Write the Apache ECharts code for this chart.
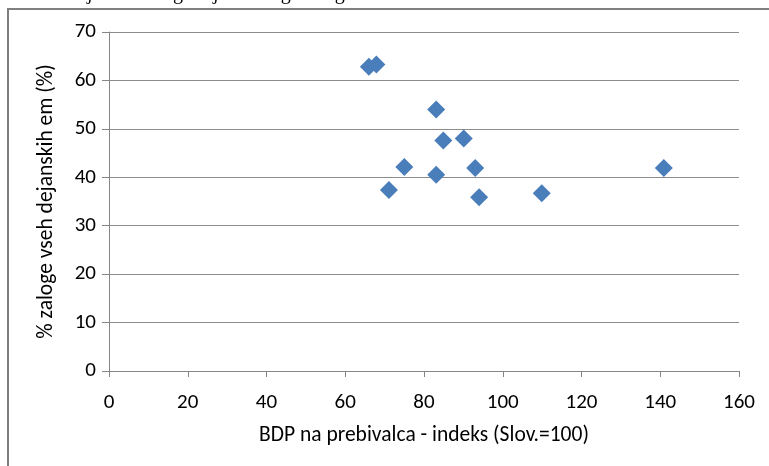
<!DOCTYPE html>
<html>
<head>
<meta charset="utf-8">
<script src="https://cdn.jsdelivr.net/npm/echarts@6/dist/echarts.min.js"></script>
<style>
html,body{margin:0;padding:0;background:#fff;}
#c{width:769px;height:466px;}
</style>
</head>
<body>
<div id="c"></div>
<script>
const xTicks = [0, 20, 40, 60, 80, 100, 120, 140, 160];
const yTicks = [0, 10, 20, 30, 40, 50, 60, 70];
const gdpIndex = [66.0, 67.9, 83.1, 84.9, 90.1, 75.0, 83.1, 93.0, 71.1, 94.0, 109.9, 140.9];
const emigrantShare = [62.8, 63.3, 54.0, 47.6, 48.0, 42.1, 40.5, 41.9, 37.4, 35.9, 36.7, 41.9];
const xName = 'BDP na prebivalca - indeks (Slov.=100)';
const yName = '% zaloge vseh dejanskih em (%)';
const captionText = '2.  Slika dejanska emigracija – zaloga emigrantov';

const font = "Carlito, 'Open Sans', sans-serif";
const chart = echarts.init(document.getElementById('c'), null, {renderer: 'canvas'});
chart.setOption({
  animation: false,
  backgroundColor: '#fff',
  graphic: [
    {type: 'rect', shape: {x: 8, y: 9, width: 800, height: 500},
     style: {fill: 'none', stroke: '#7f7f7f', lineWidth: 2}},
    {type: 'text', x: -3, y: 4,
     style: {text: captionText, font: "20px 'Liberation Serif', serif", fill: '#000',
             textBaseline: 'alphabetic', verticalAlign: 'bottom'}}
  ],
  grid: {left: 109, right: 30, top: 32, bottom: 95},
  xAxis: {
    type: 'value', min: xTicks[0], max: xTicks[xTicks.length-1], interval: 20,
    name: xName, nameLocation: 'middle', nameGap: 54,
    nameTextStyle: {fontFamily: font, fontSize: 21.5, color: '#000'},
    axisLine: {show: true, lineStyle: {color: '#868686', width: 1}},
    axisTick: {show: true, inside: false, length: 6, lineStyle: {color: '#868686'}},
    axisLabel: {fontFamily: font, fontSize: 21, color: '#000', margin: 21},
    splitLine: {show: false}
  },
  yAxis: {
    type: 'value', min: yTicks[0], max: yTicks[yTicks.length-1], interval: 10,
    name: yName, nameLocation: 'middle', nameGap: 51, nameRotate: 90,
    nameTextStyle: {fontFamily: font, fontSize: 21.5, color: '#000'},
    axisLine: {show: true, onZero: false, lineStyle: {color: '#868686', width: 1}},
    axisTick: {show: true, inside: false, length: 7, lineStyle: {color: '#868686'}},
    axisLabel: {fontFamily: font, fontSize: 21, color: '#000', margin: 13},
    splitLine: {show: true, lineStyle: {color: '#8c8c8c', width: 1}}
  },
  series: [{
    type: 'scatter',
    symbol: 'diamond',
    symbolSize: [18, 18],
    itemStyle: {color: '#4a7ebb', opacity: 1},
    data: gdpIndex.map((x, i) => [x, emigrantShare[i]])
  }]
});
</script>
</body>
</html>
